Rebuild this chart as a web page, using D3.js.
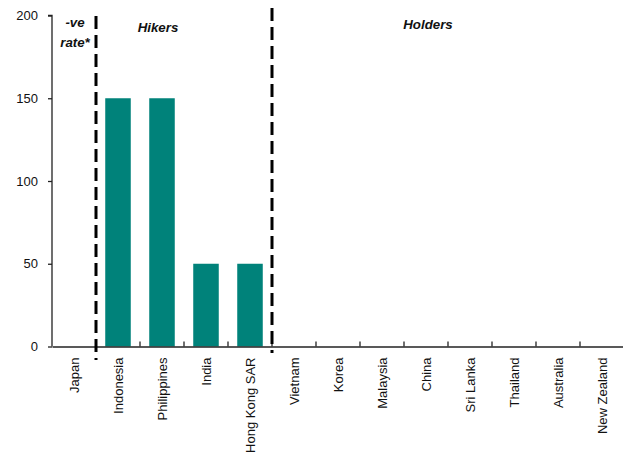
<!DOCTYPE html>
<html><head><meta charset="utf-8">
<script src="https://cdn.jsdelivr.net/npm/d3@7"></script>
<style>body{margin:0;background:#fff;} svg{display:block;font-family:"Liberation Sans",Arial,sans-serif;}</style>
</head><body>
<svg id="c" width="623" height="452"></svg>
<script>
const categories = ["Japan","Indonesia","Philippines","India","Hong Kong SAR","Vietnam","Korea","Malaysia","China","Sri Lanka","Thailand","Australia","New Zealand"];
const values = [0,150,150,50,50,0,0,0,0,0,0,0,0];
const yTicks = [0,50,100,150,200];
const groupLabels = [["-ve","rate*"],["Hikers"],["Holders"]];
const dividers = ["Indonesia","Vietnam"];

(function(){
const svg = d3.select("#c");
const mLeft = 52, mRight = 624, mTop = 15.5, mBottom = 346.5;
const x = d3.scaleBand().domain(categories).range([mLeft, mRight]).paddingInner(0).paddingOuter(0);
const y = d3.scaleLinear().domain([0,200]).range([mBottom, mTop]);
const barPad = 0.21;

svg.append("g").selectAll("rect").data(categories).join("rect")
  .attr("x", d => x(d) + x.bandwidth()*barPad)
  .attr("width", x.bandwidth()*(1-2*barPad))
  .attr("y", (d,i) => y(values[i]))
  .attr("height", (d,i) => y(0) - y(values[i]))
  .attr("fill", "#00827A");

// y axis
const ya = svg.append("g").attr("transform", `translate(${mLeft},0)`)
  .call(d3.axisLeft(y).tickValues(yTicks).tickSize(4).tickPadding(10));
ya.select(".domain").attr("stroke","#222").attr("stroke-width",1.3).attr("d", `M-4,${mTop}H0V${mBottom}`);
ya.selectAll(".tick line").attr("stroke","#222").attr("stroke-width",1.3);
ya.selectAll(".tick text").attr("font-size",13).attr("fill","#111").attr("font-family","Liberation Sans, Arial, sans-serif");

// x axis
const xa = svg.append("g").attr("transform", `translate(0,${mBottom})`)
  .call(d3.axisBottom(x).tickSize(0).tickPadding(0));
xa.select(".domain").attr("stroke","#222").attr("stroke-width",1.5);
xa.selectAll(".tick text")
  .attr("font-size",13).attr("fill","#111").attr("font-family","Liberation Sans, Arial, sans-serif")
  .attr("text-anchor","end").attr("dy","0.35em").attr("y",0)
  .attr("transform","translate(0,11) rotate(-90)");
// boundary tick marks pointing up
svg.append("g").selectAll("line").data(categories.slice(1)).join("line")
  .attr("x1", d => x(d)).attr("x2", d => x(d))
  .attr("y1", mBottom).attr("y2", mBottom-5)
  .attr("stroke","#222").attr("stroke-width",1.3);

// dashed dividers
svg.append("line").attr("x1", x(dividers[0])).attr("x2", x(dividers[0]))
  .attr("y1", 16).attr("y2", 360)
  .attr("stroke","#000").attr("stroke-width",3).attr("stroke-dasharray","13,6");
svg.append("line").attr("x1", x(dividers[1])).attr("x2", x(dividers[1]))
  .attr("y1", 8).attr("y2", 353)
  .attr("stroke","#000").attr("stroke-width",3).attr("stroke-dasharray","13,6");

// group labels
const gpos = [[75,[22,42]],[158,[27]],[428,[24]]];
groupLabels.forEach((lines,i) => {
  lines.forEach((t,j) => {
    svg.append("text").attr("x", gpos[i][0]).attr("y", gpos[i][1][j]).attr("dy","0.35em")
      .attr("text-anchor","middle").attr("font-size",13.3).attr("font-weight","bold")
      .attr("font-style","italic").attr("fill","#111").text(t);
  });
});
})();
</script>
</body></html>
